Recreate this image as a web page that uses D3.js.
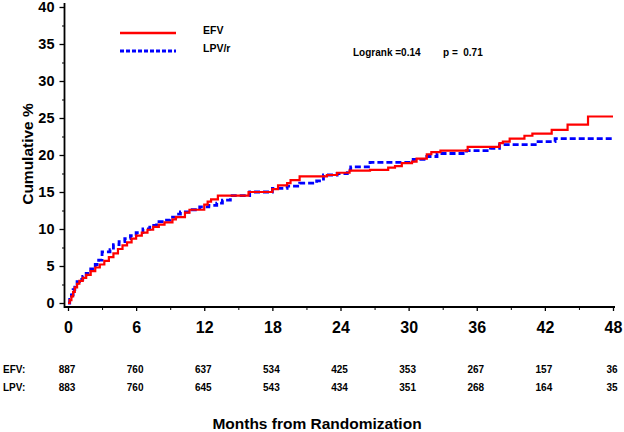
<!DOCTYPE html>
<html>
<head>
<meta charset="utf-8">
<script src="https://cdn.jsdelivr.net/npm/d3@7"></script>
<style>
  html, body { margin: 0; padding: 0; background: #fff; }
  svg { display: block; }
  text { font-family: Arial, "Liberation Sans", Helvetica, sans-serif; fill: #000; white-space: pre; }
</style>
</head>
<body>
<svg id="chart" width="624" height="432"></svg>
<script>
// ---- Data ----
const seriesNames = ["EFV", "LPV/r"];
const efvSteps = [
  [0,0],[0.15,0.4],[0.3,0.9],[0.45,1.5],[0.6,2.1],[0.8,2.6],[1.0,3.0],[1.3,3.4],[1.6,3.8],
  [2.0,4.3],[2.4,4.8],[2.8,5.2],[3.2,5.7],[3.6,6.2],[4.0,6.7],[4.4,7.3],[4.8,7.8],[5.2,8.2],
  [5.6,8.7],[6.0,9.1],[6.5,9.5],[7.0,9.9],[7.5,10.3],[8.0,10.6],[8.5,10.9],[9.2,11.3],
  [9.5,11.6],[10.3,12.2],[10.7,12.6],[12.0,13.3],[12.3,13.7],[12.6,14.0],[13.2,14.5],
  [15.9,15.0],[18.0,15.4],[18.5,15.9],[19.3,16.2],[19.6,16.6],[20.4,17.1],[22.8,17.3],
  [23.7,17.6],[24.8,17.9],[26.6,18.0],[28.2,18.3],[28.8,18.5],[29.4,18.9],[30.3,19.1],
  [30.7,19.5],[31.6,20.1],[32.0,20.4],[32.8,20.6],[35.2,21.1],[38.0,21.6],[38.3,21.8],
  [38.9,22.2],[40.2,22.6],[40.9,22.9],[42.6,23.4],[44.0,24.1],[45.8,25.2],[48.0,25.2]
];
const lpvSteps = [
  [0,0],[0.15,0.5],[0.3,1.1],[0.45,1.8],[0.6,2.4],[0.8,2.9],[1.0,3.2],[1.3,3.6],[1.6,4.0],
  [2.0,4.6],[2.4,5.2],[2.7,5.8],[3.0,6.9],[3.7,7.2],[4.0,7.9],[4.5,8.3],[5.0,8.7],[5.5,9.1],
  [6.0,9.5],[6.6,10.0],[7.2,10.5],[7.8,11.0],[8.5,11.2],[9.0,11.6],[9.5,12.0],[9.9,12.3],
  [10.8,12.6],[11.6,13.0],[12.4,13.2],[13.1,13.5],[13.6,13.9],[14.3,14.5],[16.0,15.0],
  [18.0,15.5],[19.3,15.8],[20.4,16.2],[21.9,16.5],[22.5,17.3],[23.7,17.5],[24.6,18.0],
  [24.9,18.4],[26.6,19.0],[30.4,19.4],[31.6,19.8],[32.5,20.2],[35.1,20.6],[37.2,20.9],
  [38.0,21.4],[41.4,21.8],[42.9,22.2],[48.0,22.2]
];
const xTicks = [0, 6, 12, 18, 24, 30, 36, 42, 48];
const xMinorTicks = [3, 9, 15, 21, 27, 33, 39, 45];
const yTicks = [0, 5, 10, 15, 20, 25, 30, 35, 40];
const yMinorTicks = [2.5, 7.5, 12.5, 17.5, 22.5, 27.5, 32.5, 37.5];
const riskTimes = [0, 6, 12, 18, 24, 30, 36, 42, 48];
const riskEFV = [887, 760, 637, 534, 425, 353, 267, 157, 36];
const riskLPV = [883, 760, 645, 543, 434, 351, 268, 164, 35];
const riskLabels = ["EFV:", "LPV:"];
const statText1 = "Logrank =0.14";
const statText2 = "p =  0.71";
const xTitle = "Months from Randomization";
const yTitle = "Cumulative %";
const colors = ["#ff0000", "#0000ff"];

// ---- Layout ----
const svg = d3.select("#chart");
svg.append("rect").attr("width", 624).attr("height", 432).attr("fill", "#fff");

const x = d3.scaleLinear().domain([0, 48]).range([68, 613]);
const y = d3.scaleLinear().domain([0, 40]).range([303, 7]);
const axisX = 64.5;   // y-axis line position
const axisY = 307;    // x-axis line position

// Axis lines
svg.append("line").attr("x1", axisX).attr("x2", axisX).attr("y1", 3).attr("y2", axisY + 1)
  .attr("stroke", "#000").attr("stroke-width", 1.8);
svg.append("line").attr("x1", axisX).attr("x2", 615).attr("y1", axisY).attr("y2", axisY)
  .attr("stroke", "#000").attr("stroke-width", 1.8);

// Y axis ticks
const gy = svg.append("g").attr("transform", `translate(${axisX},0)`)
  .call(d3.axisLeft(y).tickValues(yTicks).tickSize(5).tickPadding(5).tickFormat(d3.format("d")));
gy.select(".domain").remove();
gy.selectAll(".tick line").attr("stroke", "#000").attr("stroke-width", 1.3);
gy.selectAll(".tick text").attr("font-size", 14.5).attr("font-weight", "bold")
  .attr("font-family", "Arial, 'Liberation Sans', sans-serif").attr("fill", "#000");
const gym = svg.append("g").attr("transform", `translate(${axisX},0)`)
  .call(d3.axisLeft(y).tickValues(yMinorTicks).tickSize(2.5).tickFormat(""));
gym.select(".domain").remove();
gym.selectAll(".tick line").attr("stroke", "#000").attr("stroke-width", 1);

// X axis ticks
const gx = svg.append("g").attr("transform", `translate(0,${axisY})`)
  .call(d3.axisBottom(x).tickValues(xTicks).tickSize(4).tickFormat(d3.format("d")));
gx.select(".domain").remove();
gx.selectAll(".tick line").attr("stroke", "#000").attr("stroke-width", 1.3);
gx.selectAll(".tick text").attr("font-size", 16).attr("font-weight", "bold")
  .attr("font-family", "Arial, 'Liberation Sans', sans-serif").attr("fill", "#000")
  .attr("y", 26).attr("dy", "0");
const gxm = svg.append("g").attr("transform", `translate(0,${axisY})`)
  .call(d3.axisBottom(x).tickValues(xMinorTicks).tickSize(3).tickFormat(""));
gxm.select(".domain").remove();
gxm.selectAll(".tick line").attr("stroke", "#000").attr("stroke-width", 1);

// Curves
const line = d3.line().x(d => x(d[0])).y(d => y(d[1])).curve(d3.curveStepAfter);
svg.append("path").datum(lpvSteps).attr("d", line).attr("fill", "none")
  .attr("stroke", colors[1]).attr("stroke-width", 2.8).attr("stroke-dasharray", "6,3");
svg.append("path").datum(efvSteps).attr("d", line).attr("fill", "none")
  .attr("stroke", colors[0]).attr("stroke-width", 2.2);

// Legend
const legY = [33, 51];
seriesNames.forEach((name, i) => {
  svg.append("line").attr("x1", 120).attr("x2", 176).attr("y1", legY[i]).attr("y2", legY[i])
    .attr("stroke", colors[i]).attr("stroke-width", i === 0 ? 2.4 : 2.8)
    .attr("stroke-dasharray", i === 0 ? null : "4,2");
  svg.append("text").attr("x", 203).attr("y", legY[i] + 1).attr("font-size", 10.5)
    .attr("font-weight", "bold").text(name);
});

// Stats text
svg.append("text").attr("x", 353).attr("y", 56).attr("font-size", 10).attr("font-weight", "bold")
  .attr("xml:space", "preserve").text(statText1);
svg.append("text").attr("x", 443).attr("y", 56).attr("font-size", 10).attr("font-weight", "bold")
  .attr("xml:space", "preserve").text(statText2);

// Numbers at risk
const riskRows = [riskEFV, riskLPV];
const riskY = [373, 391];
riskRows.forEach((row, r) => {
  svg.append("text").attr("x", 3).attr("y", riskY[r]).attr("font-size", 10)
    .attr("font-weight", "bold").text(riskLabels[r]);
  svg.selectAll(null).data(row).enter().append("text")
    .attr("x", (d, i) => x(riskTimes[i]) - 1).attr("y", riskY[r])
    .attr("text-anchor", "middle").attr("font-size", 10).attr("font-weight", "bold")
    .text(d => d);
});

// Axis titles
svg.append("text").attr("x", 317).attr("y", 429).attr("text-anchor", "middle")
  .attr("font-size", 15.5).attr("font-weight", "bold").text(xTitle);
svg.append("text").attr("transform", "translate(33,154) rotate(-90)").attr("text-anchor", "middle")
  .attr("font-size", 15.5).attr("font-weight", "bold").text(yTitle);
</script>
</body>
</html>
